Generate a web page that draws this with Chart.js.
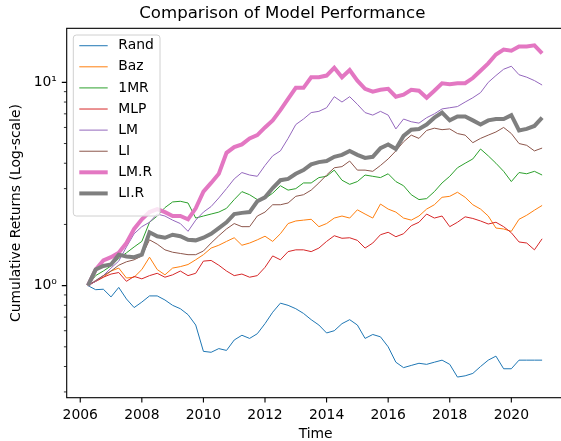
<!DOCTYPE html>
<html>
<head>
<meta charset="utf-8">
<script src="https://cdn.jsdelivr.net/npm/chart.js@4"></script>
<style>
html, body { margin: 0; padding: 0; background: #fff; overflow: hidden; }
#wrap { width: 575px; height: 441px; }
</style>
</head>
<body>
<div id="wrap"><canvas id="perf" width="575" height="441"></canvas></div>
<script>
// quarterly readings of the cumulative returns
var times = [2006.25, 2006.5, 2006.75, 2007, 2007.25, 2007.5, 2007.75, 2008, 2008.25, 2008.5,
  2008.75, 2009, 2009.25, 2009.5, 2009.75, 2010, 2010.25, 2010.5, 2010.75, 2011,
  2011.25, 2011.5, 2011.75, 2012, 2012.25, 2012.5, 2012.75, 2013, 2013.25, 2013.5,
  2013.75, 2014, 2014.25, 2014.5, 2014.75, 2015, 2015.25, 2015.5, 2015.75, 2016,
  2016.25, 2016.5, 2016.75, 2017, 2017.25, 2017.5, 2017.75, 2018, 2018.25, 2018.5,
  2018.75, 2019, 2019.25, 2019.5, 2019.75, 2020, 2020.25, 2020.5, 2020.75, 2021];

var rand = [1.0, 0.955, 0.96, 0.88, 0.98, 0.86, 0.78, 0.83, 0.89, 0.89,
  0.85, 0.80, 0.77, 0.72, 0.64, 0.475, 0.47, 0.49, 0.48, 0.54,
  0.57, 0.55, 0.58, 0.65, 0.74, 0.82, 0.80, 0.77, 0.73, 0.68,
  0.64, 0.585, 0.60, 0.65, 0.68, 0.64, 0.55, 0.575, 0.56, 0.50,
  0.42, 0.395, 0.405, 0.415, 0.41, 0.42, 0.43, 0.41, 0.355, 0.36,
  0.37, 0.40, 0.43, 0.45, 0.39, 0.39, 0.43, 0.43, 0.43, 0.43];
var baz = [1.0, 1.05, 1.10, 1.18, 1.22, 1.09, 1.10, 1.20, 1.38, 1.20,
  1.13, 1.22, 1.24, 1.27, 1.34, 1.42, 1.53, 1.58, 1.65, 1.72,
  1.58, 1.62, 1.68, 1.75, 1.65, 1.80, 2.02, 2.08, 2.10, 2.12,
  1.95, 2.02, 2.15, 2.20, 2.15, 2.36, 2.25, 2.15, 2.52, 2.38,
  2.30, 2.15, 2.10, 2.20, 2.38, 2.50, 2.72, 2.75, 2.88, 2.72,
  2.50, 2.38, 2.20, 1.92, 1.90, 1.85, 2.12, 2.22, 2.35, 2.48];
var mr1 = [1.0, 1.12, 1.18, 1.25, 1.36, 1.45, 1.55, 1.65, 2.05, 2.2,
  2.42, 2.58, 2.6, 2.55, 2.15, 2.2, 2.25, 2.3, 2.4, 2.65,
  2.9, 2.8, 2.65, 2.68, 2.85, 3.1, 2.95, 3.0, 3.2, 3.2,
  3.4, 3.45, 3.7, 3.3, 3.15, 3.25, 3.5, 3.45, 3.4, 3.55,
  3.25, 3.1, 2.8, 2.65, 2.68, 2.9, 3.2, 3.45, 3.8, 4.0,
  4.2, 4.7, 4.35, 4.0, 3.65, 3.25, 3.6, 3.55, 3.65, 3.5];
var mlp = [1.0, 1.05, 1.10, 1.14, 1.16, 1.05, 1.11, 1.08, 1.12, 1.15,
  1.10, 1.13, 1.18, 1.12, 1.15, 1.32, 1.33, 1.26, 1.18, 1.12,
  1.14, 1.10, 1.12, 1.23, 1.40, 1.34, 1.47, 1.50, 1.50, 1.47,
  1.53, 1.65, 1.76, 1.71, 1.72, 1.67, 1.53, 1.62, 1.78, 1.83,
  1.74, 1.80, 1.97, 2.05, 2.25, 2.15, 2.20, 1.95, 2.05, 2.18,
  2.14, 2.08, 2.01, 2.05, 1.95, 1.82, 1.64, 1.62, 1.50, 1.70];
var lm = [1.0, 1.05, 1.12, 1.22, 1.32, 1.55, 1.8, 1.95, 2.05, 2.25,
  2.2, 2.1, 2.02, 1.85, 2.1, 2.3, 2.45, 2.7, 3.0, 3.35,
  3.6, 3.5, 3.45, 3.9, 4.35, 4.6, 5.3, 6.2, 6.6, 7.1,
  7.2, 7.5, 8.5, 8.0, 8.5, 7.8, 7.1, 6.9, 7.2, 6.9,
  5.9, 6.6, 6.4, 6.3, 6.7, 7.0, 7.4, 7.5, 7.6, 8.0,
  8.4, 8.9, 10.0, 10.8, 11.6, 12.0, 10.9, 10.6, 10.2, 9.7];
var li = [1.0, 1.06, 1.12, 1.18, 1.26, 1.31, 1.34, 1.4, 1.68, 1.6,
  1.5, 1.46, 1.44, 1.42, 1.42, 1.48, 1.62, 1.76, 1.9, 2.02,
  1.95, 1.95, 2.2, 2.3, 2.5, 2.5, 2.55, 2.75, 2.8, 2.95,
  3.2, 3.5, 3.8, 3.85, 4.1, 3.7, 3.7, 3.65, 3.9, 4.2,
  4.6, 5.1, 5.5, 5.3, 5.8, 5.95, 5.85, 5.9, 5.6, 5.5,
  5.05, 5.3, 5.5, 5.7, 6.0, 5.6, 5.0, 4.9, 4.6, 4.75];
var lmR = [1.0, 1.2, 1.33, 1.38, 1.45, 1.62, 1.9, 2.12, 2.3, 2.38,
  2.3, 2.2, 2.2, 2.12, 2.4, 2.9, 3.2, 3.55, 4.5, 4.8,
  4.95, 5.3, 5.5, 6.0, 6.5, 7.3, 8.3, 9.4, 9.4, 10.6,
  10.6, 10.8, 11.8, 10.6, 11.5, 10.2, 9.3, 9.0, 9.2, 9.3,
  8.5, 8.7, 9.2, 9.1, 8.4, 9.1, 9.9, 9.8, 9.9, 9.9,
  10.5, 11.4, 12.4, 13.7, 14.5, 14.3, 15.0, 15.0, 15.2, 13.9];
var liR = [1.0, 1.2, 1.25, 1.27, 1.42, 1.39, 1.38, 1.42, 1.83, 1.75,
  1.72, 1.78, 1.75, 1.68, 1.67, 1.72, 1.8, 1.92, 2.05, 2.25,
  2.28, 2.3, 2.6, 2.72, 3.02, 3.3, 3.35, 3.55, 3.7, 3.95,
  4.05, 4.1, 4.3, 4.4, 4.6, 4.4, 4.25, 4.3, 4.75, 4.95,
  4.7, 5.45, 5.85, 5.9, 6.2, 6.7, 7.1, 6.5, 6.8, 6.8,
  6.5, 6.2, 6.5, 6.6, 6.6, 6.9, 5.8, 5.9, 6.1, 6.7];

var names = ["Rand", "Baz", "1MR", "MLP", "LM", "LI", "LM.R", "LI.R"];
var series = [rand, baz, mr1, mlp, lm, li, lmR, liR];
var colors = ["#1f77b4", "#ff7f0e", "#2ca02c", "#d62728", "#9467bd", "#8c564b", "#e377c2", "#7f7f7f"];
var widths = [1, 1, 1, 1, 1, 1, 4, 4];

var xTicks = [2006, 2008, 2010, 2012, 2014, 2016, 2018, 2020];
var yMajor = [1, 10];
var yMinor = [0.3, 0.4, 0.5, 0.6, 0.7, 0.8, 0.9, 2, 3, 4, 5, 6, 7, 8, 9];

var FONT = "DejaVu Sans";

var datasets = series.map(function(s, i) {
  return {
    label: names[i],
    data: times.map(function(t, j) { return { x: t, y: s[j] }; }),
    borderColor: colors[i],
    backgroundColor: colors[i],
    borderWidth: widths[i],
    pointRadius: 0,
    tension: 0,
    fill: false,
    order: series.length - i   // later series on top, like matplotlib
  };
});

// spines, tick marks and the boxed legend drawn the matplotlib way
var mplDecor = {
  id: 'mplDecor',
  afterDatasetsDraw: function(chart) {
    var ctx = chart.ctx, a = chart.chartArea;
    var xs = chart.scales.x, ys = chart.scales.y;
    ctx.save();
    ctx.strokeStyle = '#000';
    ctx.lineWidth = 1.1;
    ctx.strokeRect(a.left, a.top, a.right - a.left, a.bottom - a.top);

    ctx.beginPath();
    xTicks.forEach(function(v) {
      var px = xs.getPixelForValue(v);
      ctx.moveTo(px, a.bottom);
      ctx.lineTo(px, a.bottom + 4.9);
    });
    yMajor.forEach(function(v) {
      var py = ys.getPixelForValue(v);
      ctx.moveTo(a.left, py);
      ctx.lineTo(a.left - 4.9, py);
    });
    ctx.stroke();

    ctx.beginPath();
    ctx.lineWidth = 0.8;
    yMinor.forEach(function(v) {
      var py = ys.getPixelForValue(v);
      ctx.moveTo(a.left, py);
      ctx.lineTo(a.left - 2.8, py);
    });
    ctx.stroke();

    // legend
    var bx = a.left + 6.6, by = a.top + 6.7, bw = 86.7, bh = 181;
    ctx.beginPath();
    ctx.roundRect(bx, by, bw, bh, 3);
    ctx.fillStyle = 'rgba(255,255,255,0.8)';
    ctx.fill();
    ctx.strokeStyle = '#d0d0d0';
    ctx.lineWidth = 1;
    ctx.stroke();

    ctx.font = '13.9px "' + FONT + '"';
    ctx.textBaseline = 'middle';
    ctx.textAlign = 'left';
    chart.data.datasets.forEach(function(ds, i) {
      var ly = by + 10.7 + i * 21.1;
      ctx.beginPath();
      ctx.strokeStyle = ds.borderColor;
      ctx.lineWidth = ds.borderWidth;
      ctx.moveTo(bx + 6, ly);
      ctx.lineTo(bx + 34.4, ly);
      ctx.stroke();
      ctx.fillStyle = '#000';
      ctx.fillText(ds.label, bx + 45, ly);
    });
    ctx.restore();
  }
};

var ctx = document.getElementById("perf");
var myChart = new Chart(ctx, {
  type: 'line',
  data: { datasets: datasets },
  options: {
    responsive: false,
    animation: false,
    devicePixelRatio: 1,
    layout: { padding: { left: 0, right: 10.4, top: 0, bottom: 0 } },
    plugins: {
      legend: { display: false },
      tooltip: { enabled: false },
      title: {
        display: true,
        text: 'Comparison of Model Performance',
        color: '#000',
        font: { family: FONT, size: 16.6, weight: 'normal' },
        padding: { top: 4, bottom: 4.4 }
      }
    },
    scales: {
      x: {
        type: 'linear',
        min: 2005.56,
        max: 2021.73,
        afterBuildTicks: function(scale) {
          scale.ticks = xTicks.map(function(v) { return { value: v }; });
        },
        afterFit: function(scale) { scale.height = 43.3; },
        grid: { display: false, drawTicks: false },
        border: { display: false },
        ticks: {
          autoSkip: false,
          maxRotation: 0,
          padding: 9.8,
          color: '#000',
          font: { family: FONT, size: 13.9 },
          callback: function(v) { return String(v); }
        },
        title: {
          display: true,
          text: 'Time',
          color: '#000',
          font: { family: FONT, size: 13.9, lineHeight: 1.0 },
          padding: { top: 0, bottom: 0 }
        }
      },
      y: {
        type: 'logarithmic',
        min: 0.281,
        max: 18.44,
        afterBuildTicks: function(scale) {
          scale.ticks = yMinor.concat(yMajor).sort(function(p, q) { return p - q; })
            .map(function(v) { return { value: v }; });
        },
        afterFit: function(scale) { scale.width = 66.7; },
        grid: { display: false, drawTicks: false },
        border: { display: false },
        ticks: {
          autoSkip: false,
          padding: 9.8,
          color: '#000',
          font: { family: FONT, size: 13.9 },
          callback: function(v) {
            if (v === 1) return '10\u2070';
            if (v === 10) return '10\u00b9';
            return '';
          }
        },
        title: {
          display: true,
          text: 'Cumulative Returns (Log-scale)',
          color: '#000',
          font: { family: FONT, size: 13.9 },
          padding: { top: 8, bottom: 0 }
        }
      }
    }
  },
  plugins: [mplDecor]
});
</script>
</body>
</html>
